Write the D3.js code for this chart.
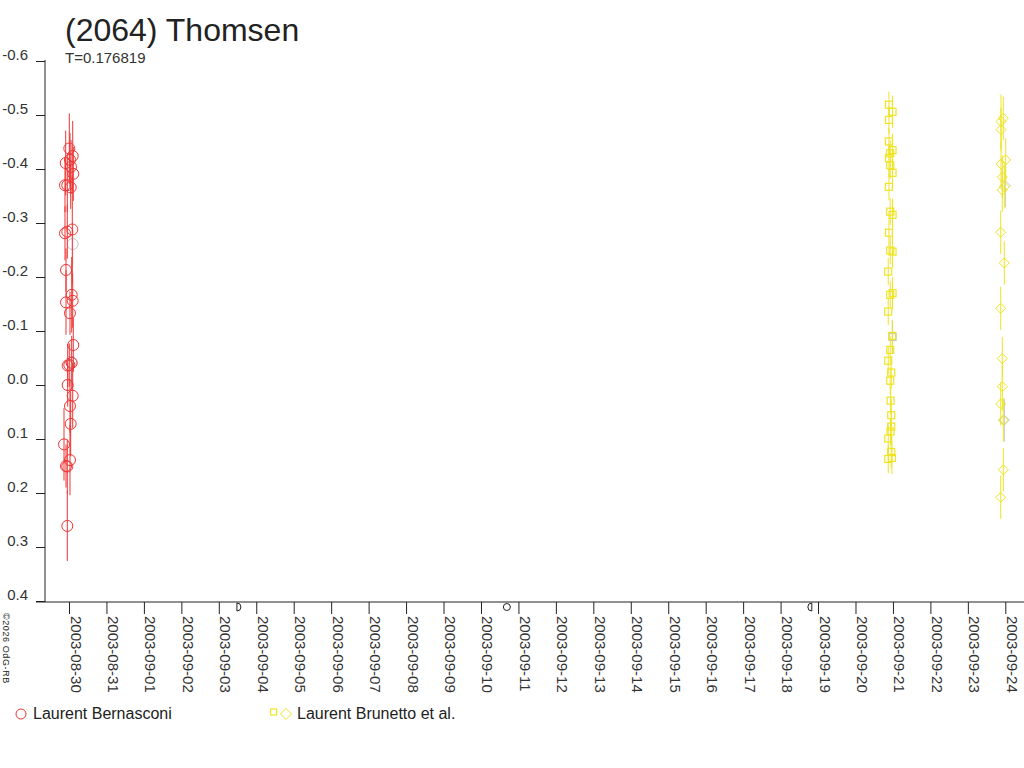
<!DOCTYPE html>
<html>
<head>
<meta charset="utf-8">
<script src="https://cdn.jsdelivr.net/npm/d3@7"></script>
<style>
  body { margin: 0; background: #fff; }
  text { font-family: "Liberation Sans", Arial, sans-serif; fill: #222; }
</style>
</head>
<body>
<script>
// Données
const title = "(2064) Thomsen";
const period = "T=0.176819";
const copyright = "©2026 OdG-RB";

const yTicks = [-0.6, -0.5, -0.4, -0.3, -0.2, -0.1, 0.0, 0.1, 0.2, 0.3, 0.4];
const yTickLabels = ["-0.6", "-0.5", "-0.4", "-0.3", "-0.2", "-0.1", "0.0", "0.1", "0.2", "0.3", "0.4"];
const xStart = "2003-08-30 00:00";
const xEnd = "2003-09-24 00:00";

// [date UT, magnitude, erreur]
const bernasconi = [
  ["2003-08-30 00:12", -0.438, 0.065],
  ["2003-08-30 02:22", -0.424, 0.065],
  ["2003-08-29 21:53", -0.411, 0.060],
  ["2003-08-30 01:17", -0.404, 0.050],
  ["2003-08-30 02:45", -0.391, 0.050],
  ["2003-08-30 00:38", -0.417, 0.050],
  ["2003-08-29 22:55", -0.370, 0.050],
  ["2003-08-30 01:05", -0.366, 0.040],
  ["2003-08-29 21:26", -0.370, 0.050],
  ["2003-08-29 22:55", -0.284, 0.050],
  ["2003-08-30 02:07", -0.288, 0.100],
  ["2003-08-29 21:26", -0.281, 0.050],
  ["2003-08-29 22:05", -0.213, 0.040],
  ["2003-08-30 01:44", -0.167, 0.070],
  ["2003-08-30 02:22", -0.156, 0.050],
  ["2003-08-29 22:05", -0.153, 0.060],
  ["2003-08-30 00:38", -0.133, 0.040],
  ["2003-08-30 02:45", -0.074, 0.050],
  ["2003-08-29 23:10", -0.036, 0.040],
  ["2003-08-30 01:44", -0.041, 0.050],
  ["2003-08-30 00:12", -0.037, 0.040],
  ["2003-08-29 23:10", 0.000, 0.040],
  ["2003-08-30 02:22", 0.020, 0.060],
  ["2003-08-30 00:38", 0.039, 0.050],
  ["2003-08-30 01:05", 0.072, 0.060],
  ["2003-08-29 20:48", 0.110, 0.067],
  ["2003-08-30 00:38", 0.139, 0.065],
  ["2003-08-29 22:55", 0.151, 0.050],
  ["2003-08-29 22:05", 0.150, 0.040],
  ["2003-08-29 22:55", 0.261, 0.065]
];

const brunettoSquares = [
  ["2003-09-20 21:26", -0.519, 0.024],
  ["2003-09-20 23:45", -0.506, 0.030],
  ["2003-09-20 21:26", -0.491, 0.025],
  ["2003-09-20 21:26", -0.451, 0.025],
  ["2003-09-20 23:45", -0.435, 0.030],
  ["2003-09-20 22:16", -0.429, 0.025],
  ["2003-09-20 21:26", -0.420, 0.025],
  ["2003-09-20 22:16", -0.407, 0.025],
  ["2003-09-20 23:45", -0.393, 0.030],
  ["2003-09-20 21:26", -0.367, 0.025],
  ["2003-09-20 22:16", -0.321, 0.025],
  ["2003-09-20 23:45", -0.315, 0.030],
  ["2003-09-20 21:26", -0.282, 0.025],
  ["2003-09-20 22:16", -0.249, 0.025],
  ["2003-09-20 23:45", -0.247, 0.030],
  ["2003-09-20 20:59", -0.210, 0.025],
  ["2003-09-20 22:16", -0.167, 0.025],
  ["2003-09-20 23:45", -0.170, 0.030],
  ["2003-09-20 20:59", -0.136, 0.025],
  ["2003-09-20 23:33", -0.091, 0.030],
  ["2003-09-20 22:16", -0.065, 0.025],
  ["2003-09-20 20:59", -0.045, 0.025],
  ["2003-09-20 22:55", -0.023, 0.030],
  ["2003-09-20 22:16", -0.008, 0.025],
  ["2003-09-20 22:28", 0.029, 0.025],
  ["2003-09-20 22:55", 0.056, 0.030],
  ["2003-09-20 22:55", 0.077, 0.025],
  ["2003-09-20 22:28", 0.086, 0.025],
  ["2003-09-20 20:59", 0.099, 0.025],
  ["2003-09-20 22:55", 0.124, 0.030],
  ["2003-09-20 20:59", 0.137, 0.026],
  ["2003-09-20 23:22", 0.135, 0.030]
];

const brunettoDiamonds = [
  ["2003-09-23 22:43", -0.494, 0.040],
  ["2003-09-23 21:15", -0.488, 0.050],
  ["2003-09-23 21:15", -0.473, 0.040],
  ["2003-09-24 00:15", -0.417, 0.040],
  ["2003-09-23 21:15", -0.409, 0.040],
  ["2003-09-23 22:05", -0.385, 0.040],
  ["2003-09-23 23:22", -0.367, 0.040],
  ["2003-09-23 22:05", -0.361, 0.040],
  ["2003-09-23 21:03", -0.283, 0.040],
  ["2003-09-23 23:22", -0.226, 0.040],
  ["2003-09-23 21:03", -0.142, 0.040],
  ["2003-09-23 22:05", -0.049, 0.040],
  ["2003-09-23 22:05", 0.003, 0.045],
  ["2003-09-23 21:03", 0.035, 0.040],
  ["2003-09-23 22:43", 0.065, 0.040],
  ["2003-09-23 22:43", 0.157, 0.040],
  ["2003-09-23 21:03", 0.208, 0.040]
];

// points gris (en arrière-plan)
const greyCircles = [
  ["2003-08-30 02:22", -0.261, 0.040],
  ["2003-08-30 01:17", -0.043, 0.040]
];
const greySquares = [
  ["2003-09-20 23:45", -0.089, 0.030]
];
const greyDiamonds = [
  ["2003-09-23 23:59", -0.369, 0.040],
  ["2003-09-23 23:22", 0.065, 0.040]
];

// phases de la lune
const moonPhases = [
  ["2003-09-03 12:34", "first"],
  ["2003-09-10 16:36", "full"],
  ["2003-09-18 19:03", "last"]
];

const legendNames = ["Laurent Bernasconi", "Laurent Brunetto et al."];

const red = "#ee3535";
const yellow = "#efe424";
const grey = "#c4c4cc";

const width = 1024;
const height = 768;
const parse = d3.utcParse("%Y-%m-%d %H:%M");

const svg = d3.select("body").append("svg")
    .attr("width", width)
    .attr("height", height);

const x = d3.scaleUtc()
    .domain([parse(xStart), parse(xEnd)])
    .range([69, 1005.3]);

const y = d3.scaleLinear()
    .domain([-0.6, 0.4])
    .range([61, 601]);

// Titre
svg.append("text").attr("x", 65).attr("y", 41).style("font-size", "32px").text(title);
svg.append("text").attr("x", 65).attr("y", 63).style("font-size", "15px").style("fill", "#333").text(period);

// Axe Y
const yAxis = svg.append("g")
    .attr("transform", "translate(45,0)")
    .call(d3.axisLeft(y).tickValues(yTicks).tickFormat((d, i) => yTickLabels[i]).tickSize(9).tickSizeOuter(0).tickPadding(8));
yAxis.selectAll("text").attr("dy", 0).attr("y", -2).style("font-size", "15px").style("font-family", null).style("fill", "#333");
yAxis.selectAll("line, path").attr("stroke", "#222");
yAxis.select(".domain").attr("d", "M0,60V602");

// Axe X
const xAxis = svg.append("g")
    .attr("transform", "translate(0,602)")
    .call(d3.axisBottom(x).ticks(d3.utcDay.every(1)).tickFormat(d3.utcFormat("%Y-%m-%d")).tickSize(12).tickSizeOuter(0));
xAxis.select(".domain").attr("d", "M36,0H" + width);
xAxis.selectAll("line, path").attr("stroke", "#222");
xAxis.selectAll("text")
    .attr("transform", "rotate(90)")
    .attr("x", 14)
    .attr("y", -1)
    .attr("dy", 0)
    .attr("text-anchor", "start")
    .style("font-size", "15px")
    .style("font-family", null)
    .style("fill", "#333");

// Lune
svg.append("g").selectAll("path")
    .data(moonPhases)
    .enter()
    .append("path")
    .attr("transform", d => "translate(" + x(parse(d[0])) + ",607)")
    .attr("d", d => {
        if (d[1] === "full") return "M-3.5,0A3.5,3.5 0 1,1 3.5,0A3.5,3.5 0 1,1 -3.5,0";
        if (d[1] === "first") return "M-1.5,-4A4,4 0 0,1 -1.5,4Z";
        return "M1.5,-4A4,4 0 0,0 1.5,4Z";
    })
    .attr("fill", "none")
    .attr("stroke", "#222")
    .attr("stroke-width", 1);

// Copyright
svg.append("text")
    .attr("transform", "translate(3,613) rotate(90)")
    .style("font-size", "9px")
    .style("letter-spacing", "0.6px")
    .text(copyright);

// Barres d'erreur
function errorBars(g, data, color) {
    g.append("g").selectAll("line")
        .data(data)
        .enter()
        .append("line")
        .attr("x1", d => x(parse(d[0])))
        .attr("x2", d => x(parse(d[0])))
        .attr("y1", d => y(d[1] - d[2]))
        .attr("y2", d => y(d[1] + d[2]))
        .attr("stroke", color)
        .attr("stroke-width", 1);
}

function circles(g, data, color) {
    g.append("g").selectAll("circle")
        .data(data)
        .enter()
        .append("circle")
        .attr("cx", d => x(parse(d[0])))
        .attr("cy", d => y(d[1]))
        .attr("r", 5.5)
        .attr("fill", "none")
        .attr("stroke", color)
        .attr("stroke-width", 1);
}

function squares(g, data, color) {
    g.append("g").selectAll("rect")
        .data(data)
        .enter()
        .append("rect")
        .attr("x", d => x(parse(d[0])) - 3.5)
        .attr("y", d => y(d[1]) - 3.5)
        .attr("width", 7)
        .attr("height", 7)
        .attr("fill", "none")
        .attr("stroke", color)
        .attr("stroke-width", 1.2);
}

function diamonds(g, data, color) {
    g.append("g").selectAll("path")
        .data(data)
        .enter()
        .append("path")
        .attr("transform", d => "translate(" + x(parse(d[0])) + "," + y(d[1]) + ")")
        .attr("d", "M0,-5L5,0L0,5L-5,0Z")
        .attr("fill", "none")
        .attr("stroke", color)
        .attr("stroke-width", 1);
}

const plot = svg.append("g");
errorBars(plot, greyCircles.concat(greySquares, greyDiamonds), grey);
circles(plot, greyCircles, grey);
squares(plot, greySquares, grey);
diamonds(plot, greyDiamonds, grey);

errorBars(plot, bernasconi, red);
circles(plot, bernasconi, red);
errorBars(plot, brunettoSquares, yellow);
squares(plot, brunettoSquares, yellow);
errorBars(plot, brunettoDiamonds, yellow);
diamonds(plot, brunettoDiamonds, yellow);

// Légende
const legend = svg.append("g");
legend.append("circle").attr("cx", 21).attr("cy", 714).attr("r", 5)
    .attr("fill", "none").attr("stroke", red);
legend.append("text").attr("x", 33).attr("y", 719).style("font-size", "16px").text(legendNames[0]);
legend.append("rect").attr("x", 270.5).attr("y", 709).attr("width", 6).attr("height", 6)
    .attr("fill", "none").attr("stroke", yellow).attr("stroke-width", 1.2);
legend.append("path").attr("transform", "translate(286,714)").attr("d", "M0,-5.5L5.5,0L0,5.5L-5.5,0Z")
    .attr("fill", "none").attr("stroke", yellow);
legend.append("text").attr("x", 297).attr("y", 719).style("font-size", "16px").text(legendNames[1]);
</script>
</body>
</html>
